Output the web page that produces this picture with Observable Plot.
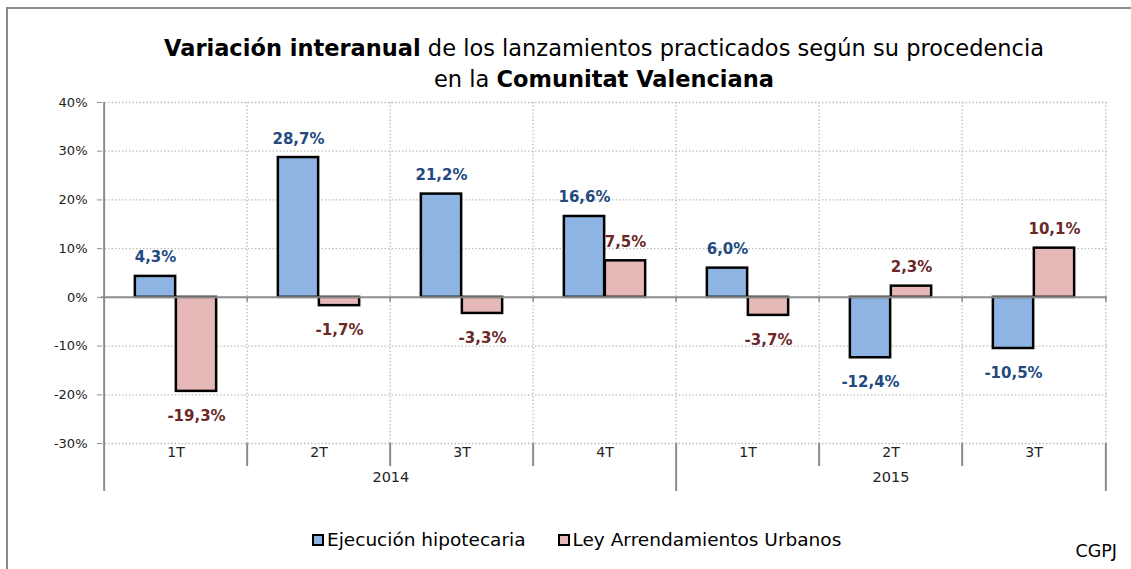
<!DOCTYPE html>
<html>
<head>
<meta charset="utf-8">
<script src="https://cdn.jsdelivr.net/npm/d3@7"></script>
<script src="https://cdn.jsdelivr.net/npm/@observablehq/plot@0.6"></script>
<style>
  body { margin: 0; background: #fff; }
  #wrap { position: relative; width: 1131px; height: 569px; overflow: hidden; background: #fff; font-family: "DejaVu Sans", sans-serif; }
  #frame { position: absolute; left: 6px; top: 7px; width: 1300px; height: 800px; border-top: 2px solid #8a8a8a; border-left: 2px solid #8a8a8a; }
  #title { position: absolute; left: 0; top: 33px; width: 1208px; text-align: center; font-size: 22.5px; line-height: 31px; color: #000; }
  #chart { position: absolute; left: 0; top: 92px; }
  #legend { position: absolute; top: 529px; left: 312px; font-size: 18.5px; color: #000; display: flex; align-items: center; white-space: nowrap; }
  .sw { display: inline-block; width: 8px; height: 8px; border: 2px solid #000; margin-right: 3px; }
  #caption { position: absolute; right: 14px; top: 541px; font-size: 17.5px; color: #000; }
</style>
</head>
<body>
<div id="wrap">
  <div id="frame"></div>
  <div id="title"><b>Variación interanual</b> de los lanzamientos practicados según su procedencia<br>en la <b>Comunitat Valenciana</b></div>
  <div id="chart"></div>
  <div id="legend"></div>
  <div id="caption">CGPJ</div>
</div>
<script>
// ---- data ----
const quarters = ["1T", "2T", "3T", "4T", "1T", "2T", "3T"];
const years = ["2014", "2014", "2014", "2014", "2015", "2015", "2015"];
const ejecucion = [4.3, 28.7, 21.2, 16.6, 6.0, -12.4, -10.5];
const ley = [-19.3, -1.7, -3.3, 7.5, -3.7, 2.3, 10.1];
const seriesNames = ["Ejecución hipotecaria", "Ley Arrendamientos Urbanos"];
const yTicks = [-30, -20, -10, 0, 10, 20, 30, 40];

// ---- layout ----
const W = 1131, H = 408, ML = 101, MR = 24, MT = 10, MB = 57;
const keys = quarters.map((q, i) => years[i] + "-" + q);
const bw = (W - ML - MR) / keys.length;
const barW = 41;
const outer = bw / 2 - barW;
const colors = ["#8DB4E2", "#E6B9B8"];
const labelColors = ["#23497F", "#6A2828"];
const grid = "#BDBDBD";
const axisGray = "#8C8C8C";

const rowsE = keys.map((k, i) => ({key: k, value: ejecucion[i]}));
const rowsL = keys.map((k, i) => ({key: k, value: ley[i]}));
const fmt = v => v.toFixed(1).replace(".", ",") + "%";

const innerKeys = keys.filter((k, i) => i > 0 && years[i] === years[i - 1]);
const yearStartKeys = keys.filter((k, i) => i > 0 && years[i] !== years[i - 1]);
const lastKey = keys[keys.length - 1];

// year label positions (center of each year's span)
const uniqYears = [...new Set(years)];
const yearLabels = uniqYears.map(y => {
  const idx = years.map((v, i) => v === y ? i : -1).filter(i => i >= 0);
  const mid = (idx[0] + idx[idx.length - 1]) / 2;
  return {year: y, key: keys[Math.floor(mid)], frac: mid - Math.floor(mid)};
});
const yearWhole = yearLabels.filter(d => d.frac === 0);
const yearHalf = yearLabels.filter(d => d.frac !== 0);

const labelMarks = (rows, color, dir) => [
  Plot.text(rows.filter(d => d.value >= 0), {x: "key", y: "value", text: d => fmt(d.value), dx: dir * barW / 2, dy: -14, lineAnchor: "bottom", fill: color, fontWeight: "bold", fontSize: 15}),
  Plot.text(rows.filter(d => d.value < 0), {x: "key", y: "value", text: d => fmt(d.value), dx: dir * barW / 2, dy: 19, lineAnchor: "top", fill: color, fontWeight: "bold", fontSize: 15})
];

const chart = Plot.plot({
  width: W, height: H,
  marginLeft: ML, marginRight: MR, marginTop: MT, marginBottom: MB,
  style: {fontFamily: "DejaVu Sans, sans-serif", overflow: "visible", background: "transparent"},
  x: {type: "band", domain: keys, padding: 0, axis: null},
  y: {domain: [-30, 40]},
  marks: [
    // horizontal dotted gridlines
    Plot.ruleY(yTicks.filter(d => d !== 0), {stroke: grid, strokeWidth: 1.3, strokeDasharray: "1.5,2"}),
    // vertical dotted gridlines at band boundaries
    Plot.ruleX(keys.slice(1), {x: d => d, dx: -bw / 2, stroke: grid, strokeWidth: 1.3, strokeDasharray: "1.5,2"}),
    Plot.ruleX([lastKey], {x: d => d, dx: bw / 2, stroke: grid, strokeWidth: 1.3, strokeDasharray: "1.5,2"}),
    // y axis
    Plot.axisY(yTicks, {tickSize: 4, tickPadding: 10, tickFormat: d => d + "%", fontSize: 13, stroke: axisGray, fill: "#222", label: null}),
    Plot.ruleX([keys[0]], {x: d => d, dx: -bw / 2, stroke: axisGray, strokeWidth: 2, insetBottom: -48}),
    // bars
    Plot.rectY(rowsE, {x: "key", y: "value", insetLeft: outer, insetRight: outer + barW, fill: colors[0], stroke: "#000", strokeWidth: 2.5}),
    Plot.rectY(rowsL, {x: "key", y: "value", insetLeft: outer + barW, insetRight: outer, fill: colors[1], stroke: "#000", strokeWidth: 2.5}),
    // zero line and its ticks
    Plot.ruleY([0], {stroke: axisGray, strokeWidth: 2}),
    Plot.ruleX(keys.slice(1), {x: d => d, dx: -bw / 2, y1: 0, y2: 0, insetBottom: -5, stroke: axisGray, strokeWidth: 1.5}),
    Plot.ruleX([lastKey], {x: d => d, dx: bw / 2, y1: 0, y2: 0, insetBottom: -5, stroke: axisGray, strokeWidth: 1.5}),
    // category axis separators
    Plot.ruleX(innerKeys, {x: d => d, dx: -bw / 2, y1: -30, y2: -30, insetBottom: -23, stroke: axisGray, strokeWidth: 2}),
    Plot.ruleX(yearStartKeys, {x: d => d, dx: -bw / 2, y1: -30, y2: -30, insetBottom: -48, stroke: axisGray, strokeWidth: 2}),
    Plot.ruleX([lastKey], {x: d => d, dx: bw / 2, y1: -30, y2: -30, insetBottom: -48, stroke: axisGray, strokeWidth: 2}),
    // category labels
    Plot.text(keys, {x: d => d, text: (d, i) => quarters[i], frameAnchor: "bottom", dy: 13, fontSize: 14, fill: "#222"}),
    Plot.text(yearWhole, {x: "key", text: "year", frameAnchor: "bottom", dy: 38, fontSize: 14.5, fill: "#222"}),
    Plot.text(yearHalf, {x: "key", text: "year", dx: bw / 2, frameAnchor: "bottom", dy: 38, fontSize: 14.5, fill: "#222"}),
    // value labels
    ...labelMarks(rowsE, labelColors[0], -1),
    ...labelMarks(rowsL, labelColors[1], 1)
  ]
});
document.getElementById("chart").appendChild(chart);

// legend
const legend = document.getElementById("legend");
seriesNames.forEach((name, i) => {
  const item = document.createElement("span");
  item.style.display = "inline-flex";
  item.style.alignItems = "center";
  item.style.marginRight = i === 0 ? "32px" : "0";
  const sw = document.createElement("span");
  sw.className = "sw";
  sw.style.background = colors[i];
  item.appendChild(sw);
  item.appendChild(document.createTextNode(name));
  legend.appendChild(item);
});
</script>
</body>
</html>
